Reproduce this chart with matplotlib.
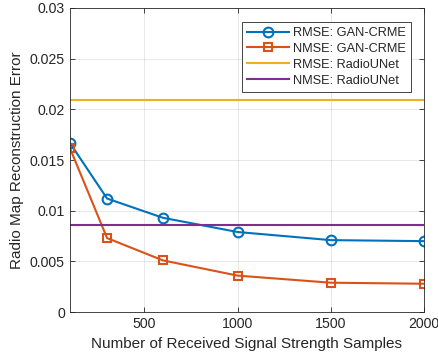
import numpy as np
import matplotlib.pyplot as plt

plt.rcParams['font.family'] = ['Liberation Sans', 'DejaVu Sans']

# Data
samples = [100, 300, 600, 1000, 1500, 2000]
rmse_gan = [0.0167, 0.0112, 0.0093, 0.0079, 0.0071, 0.0070]
nmse_gan = [0.0162, 0.0073, 0.0051, 0.0036, 0.0029, 0.0028]
rmse_unet = 0.0209
nmse_unet = 0.0086

fig = plt.figure(figsize=(4.39, 3.6), dpi=100)
ax = fig.add_axes([0.159, 0.133, 0.807, 0.845])

txt = '#262626'
ax.plot(samples, rmse_gan, '-o', color='#0072BD', lw=1.5, ms=7,
        mfc='none', mew=1.5, label='RMSE: GAN-CRME')
ax.plot(samples, nmse_gan, '-s', color='#D95319', lw=1.5, ms=5.5,
        mfc='none', mew=1.5, label='NMSE: GAN-CRME')
ax.axhline(rmse_unet, color='#EDB120', lw=1.5, label='RMSE: RadioUNet')
ax.axhline(nmse_unet, color='#7E2F8E', lw=1.5, label='NMSE: RadioUNet')

ax.set_xlim(100, 2000)
ax.set_ylim(0, 0.03)
ax.set_xticks([500, 1000, 1500, 2000])
ax.set_yticks([0, 0.005, 0.01, 0.015, 0.02, 0.025, 0.03])
ax.set_yticklabels(['0', '0.005', '0.01', '0.015', '0.02', '0.025', '0.03'])

ax.grid(True, color='#262626', alpha=0.12, lw=0.6)
ax.tick_params(direction='in', top=True, right=True, labelsize=10.2,
               colors=txt, length=3.5, width=0.6)
for s in ax.spines.values():
    s.set_color(txt)
    s.set_linewidth(0.6)

ax.set_xlabel('Number of Received Signal Strength Samples', fontsize=11, color=txt)
ax.set_ylabel('Radio Map Reconstruction Error', fontsize=11, color=txt)

leg = ax.legend(loc='upper right', bbox_to_anchor=(0.963, 0.954), fontsize=9.2,
                frameon=True, fancybox=False, edgecolor=txt, framealpha=1,
                handlelength=3.3, borderpad=0.4, labelspacing=0.3,
                handletextpad=0.3, borderaxespad=0)
leg.get_frame().set_linewidth(0.6)
for t in leg.get_texts():
    t.set_color(txt)

fig.savefig('out.png', dpi=100)
